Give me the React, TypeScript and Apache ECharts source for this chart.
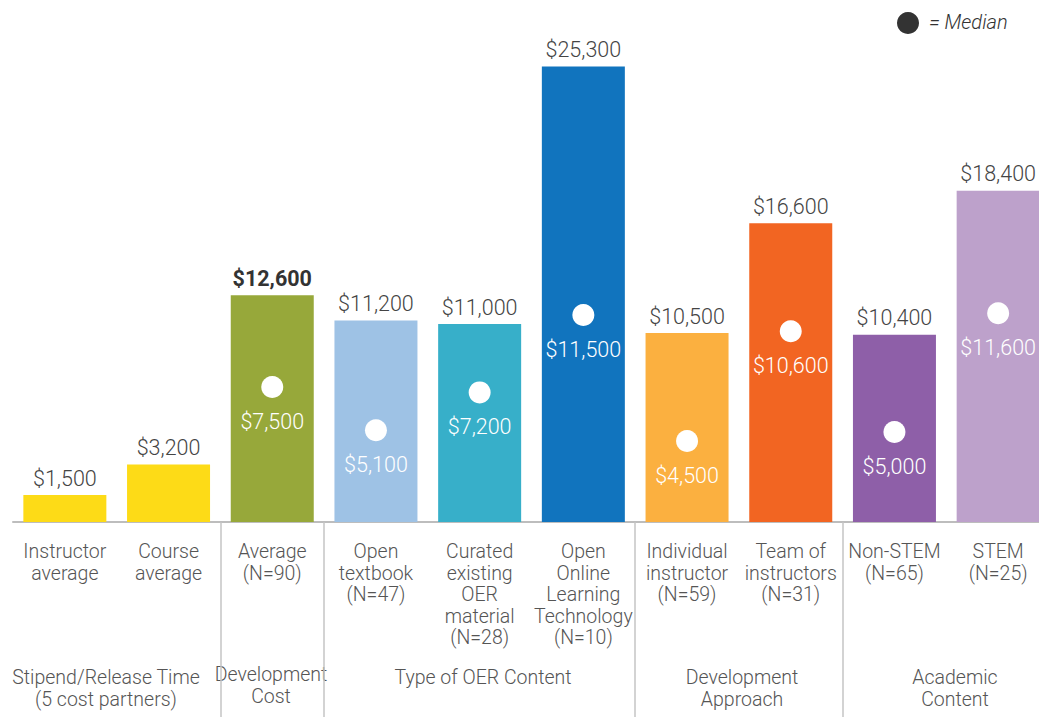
import React, { useEffect, useRef } from "react";
import * as echarts from "echarts";

const categories = [
  "Instructor\naverage",
  "Course\naverage",
  "Average\n(N=90)",
  "Open\ntextbook\n(N=47)",
  "Curated\nexisting\nOER\nmaterial\n(N=28)",
  "Open\nOnline\nLearning\nTechnology\n(N=10)",
  "Individual\ninstructor\n(N=59)",
  "Team of\ninstructors\n(N=31)",
  "Non-STEM\n(N=65)",
  "STEM\n(N=25)",
];
const averageCost = [1500, 3200, 12600, 11200, 11000, 25300, 10500, 16600, 10400, 18400];
const medianCost: (number | null)[] = [null, null, 7500, 5100, 7200, 11500, 4500, 10600, 5000, 11600];
const barColors = [
  "#FDDB17", "#FDDB17", "#97A83A", "#9EC2E5", "#37AFC9",
  "#1174BE", "#FBB040", "#F26522", "#8E5FA8", "#BDA1CB",
];
const groupLabels = [
  "Stipend/Release Time\n(5 cost partners)",
  "Development\nCost",
  "Type of OER Content",
  "Development\nApproach",
  "Academic\nContent",
];
const separatorAfter = [2, 3, 6, 8];

const FONT = "Roboto";
const fmt = (v: number) => "$" + v.toLocaleString("en-US");

export default function App() {
  const ref = useRef<HTMLDivElement>(null);
  useEffect(() => {
    if (!ref.current) return;
    const chart = echarts.init(ref.current, undefined, { renderer: "svg" });
    const groupPos = [
      { x: 106, y: 666 },
      { x: 271, y: 663 },
      { x: 483, y: 666 },
      { x: 742, y: 666 },
      { x: 955, y: 666 },
    ];
    chart.setOption({
      animation: false,
      grid: { left: 13, top: 18, right: 2, bottom: 195, containLabel: false },
      xAxis: {
        type: "category",
        data: categories,
        boundaryGap: true,
        axisLine: { show: true, lineStyle: { color: "#BDBDBD", width: 2 } },
        axisTick: {
          show: true,
          alignWithLabel: false,
          interval: (index: number) => separatorAfter.includes(index),
          length: 196,
          lineStyle: { color: "#C4C4C4", width: 1.5 },
        },
        axisLabel: {
          interval: 0,
          margin: 19,
          fontFamily: FONT,
          fontWeight: 300,
          fontSize: 19.5,
          lineHeight: 21.5,
          color: "#555555",
          verticalAlign: "top",
        },
      },
      yAxis: {
        type: "value",
        min: 0,
        max: 28000,
        show: false,
        splitLine: { show: false },
      },
      series: [
        {
          type: "bar",
          barWidth: 83,
          data: averageCost.map((v, i) => ({
            value: v,
            itemStyle: { color: barColors[i] },
            label:
              i === 2
                ? { fontWeight: "bold", color: "#333333" }
                : undefined,
          })),
          label: {
            show: true,
            position: "top",
            distance: 6,
            fontFamily: FONT,
            fontWeight: 300,
            fontSize: 21.5,
            color: "#444444",
            formatter: (p: any) => fmt(p.value),
          },
        },
        {
          type: "scatter",
          symbol: "circle",
          symbolSize: 22,
          itemStyle: { color: "#FFFFFF", opacity: 1 },
          data: medianCost.map((v) => (v === null ? "-" : v)),
          label: {
            show: true,
            position: "bottom",
            distance: 12,
            fontFamily: FONT,
            fontWeight: 300,
            fontSize: 21.5,
            color: "#FFFFFF",
            opacity: 1,
            formatter: (p: any) => fmt(p.value),
          },
          z: 5,
        },
      ],
      graphic: [
        { type: "circle", shape: { cx: 908, cy: 23, r: 11 }, style: { fill: "#333333" } },
        {
          type: "text",
          x: 929,
          y: 22,
          style: {
            text: "= Median",
            fontFamily: FONT,
            fontWeight: 300,
            fontStyle: "italic",
            fontSize: 20,
            fill: "#333333",
            verticalAlign: "middle",
          },
        },
        ...groupLabels.map((t, i) => ({
          type: "text",
          x: groupPos[i].x,
          y: groupPos[i].y,
          style: {
            text: t,
            fontFamily: FONT,
            fontWeight: 300,
            fontSize: 19.5,
            lineHeight: 22,
            fill: "#555555",
            textAlign: "center",
            verticalAlign: "top",
          },
        })),
      ],
    });
    return () => chart.dispose();
  }, []);
  return (
    <div style={{ position: "fixed", left: 0, top: 0, width: 1039, height: 717, overflow: "hidden", background: "#fff" }}>
      <div ref={ref} style={{ width: 1052, height: 717 }} />
    </div>
  );
}
